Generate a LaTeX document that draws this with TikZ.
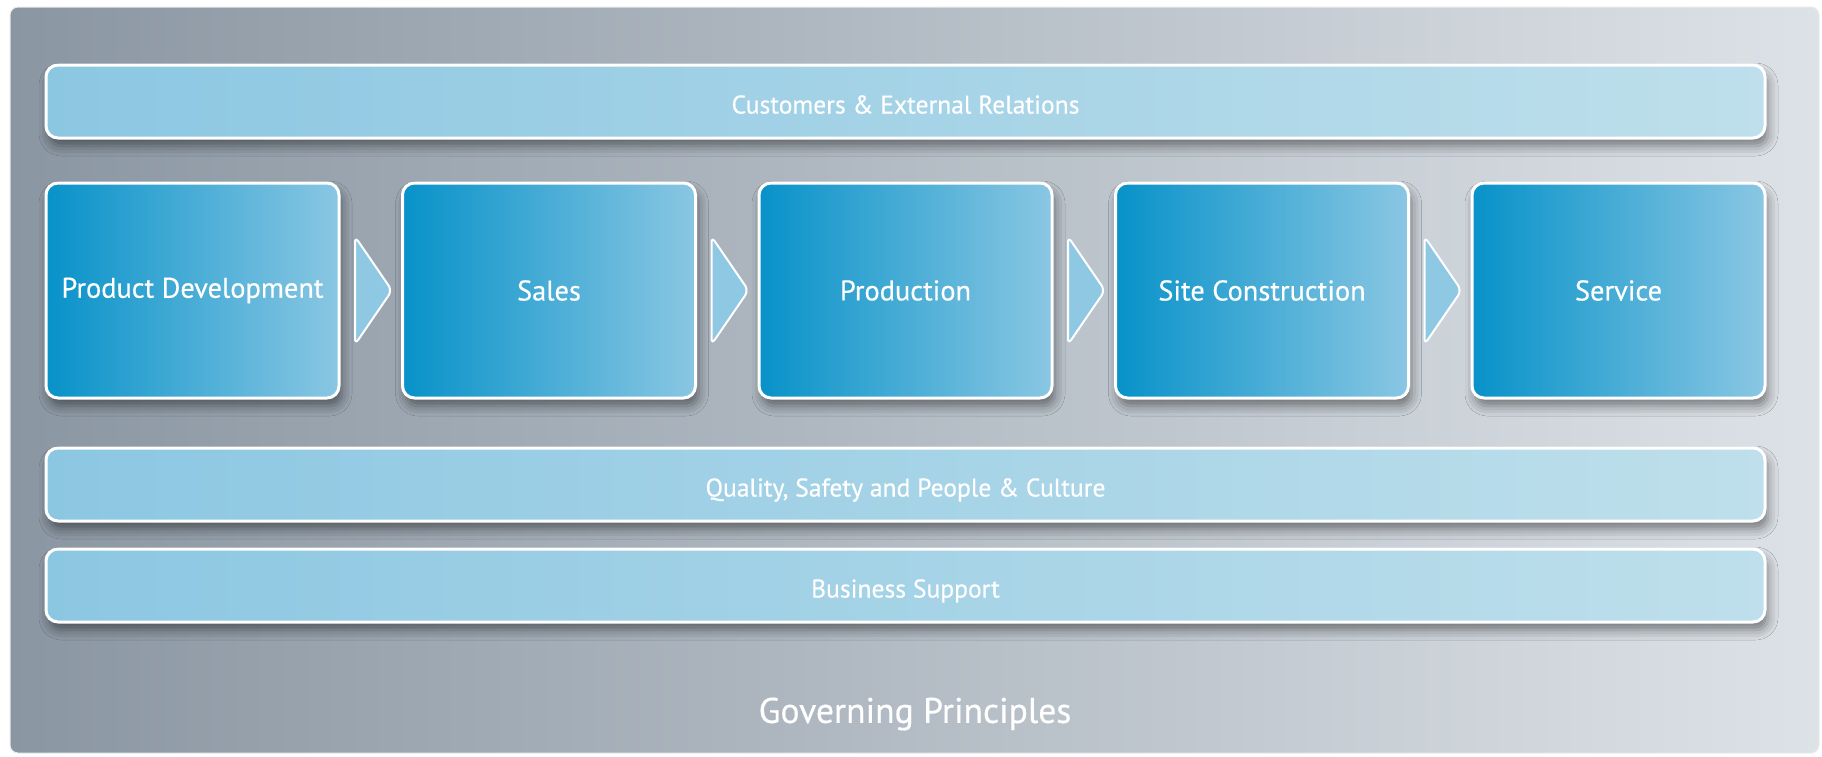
\documentclass[tikz,border=0pt]{standalone}
\usepackage{fontspec}
\setmainfont{PT Sans}
\newfontfamily\labelfont{PT Sans}[FakeBold=0.4]
\usepackage{tikz}
\usetikzlibrary{shapes}
\usetikzlibrary{shadows}
\usetikzlibrary{shadows.blur}
\usetikzlibrary{positioning}
\definecolor{framedark}{HTML}{8A96A2}
\definecolor{framelight}{HTML}{DDE2E7}
\definecolor{stagedark}{HTML}{0792C9}
\definecolor{stagelight}{HTML}{8AC7E3}
\definecolor{barleft}{HTML}{8CC7E2}
\definecolor{barright}{HTML}{BEDFEB}
\definecolor{chevfill}{HTML}{8EC8E3}
\tikzset{node distance=31.75pt, every text node part/.style={align=center}}
\tikzstyle{frame} = [rounded corners=4pt, left color=framedark, right color=framelight, draw=white!92!black, line width=0.5pt, minimum width=904.5pt, minimum height=373pt]
\tikzstyle{stage} = [draw=white, line width=1.5pt, outer sep=0pt, rounded corners=6pt, left color=stagedark, right color=stagelight, minimum width=146.5pt, minimum height=107.5pt, text=white, font={\labelfont\fontsize{14.2}{16}\selectfont}, blur shadow={shadow xshift=1.5pt, shadow yshift=-4pt, shadow blur radius=5pt, shadow opacity=45}]
\tikzstyle{bar} = [draw=white, line width=1.5pt, outer sep=0pt, rounded corners=6pt, left color=barleft, right color=barright, minimum width=859.5pt, minimum height=36.5pt, text=white, text height=12pt, text depth=0pt, font={\labelfont\fontsize{12.8}{14}\selectfont}, blur shadow={shadow xshift=1.5pt, shadow yshift=-4pt, shadow blur radius=5pt, shadow opacity=45}]
\tikzstyle{chevron} = [draw=white, line width=1pt, fill=chevfill, rounded corners=3pt]

\begin{document}
\begin{tikzpicture}[x=0.5pt, y=-0.5pt]
  \useasboundingbox[fill=white] (0,0) rectangle (1822,756);
  \node[frame] (frame) at (914.5,380) {};
  \node[stage] (product-dev) at (192.5,290.5) {Product Development};
  \node[stage, right=of product-dev] (sales) {Sales};
  \node[stage, right=of sales] (production) {Production};
  \node[stage, right=of production] (site-construction) {Site Construction};
  \node[stage, right=of site-construction] (service) {Service};
  \node[bar, above=22.5pt of production] (customers) {Customers \& External Relations};
  \node[bar, below=25pt of production] (quality) {Quality, Safety and People \& Culture};
  \node[bar, below=14pt of quality] (support) {Business Support};
  \node[text=white, font={\labelfont\fontsize{17.8}{20}\selectfont}] (principles) at (915,714) {Governing Principles};
  \foreach \a in {product-dev, sales, production, site-construction}
    \draw[chevron] ([xshift=8pt, yshift=27pt]\a.east) -- ([xshift=26.5pt]\a.east) -- ([xshift=8pt, yshift=-27pt]\a.east) -- cycle;
\end{tikzpicture}
\end{document}
